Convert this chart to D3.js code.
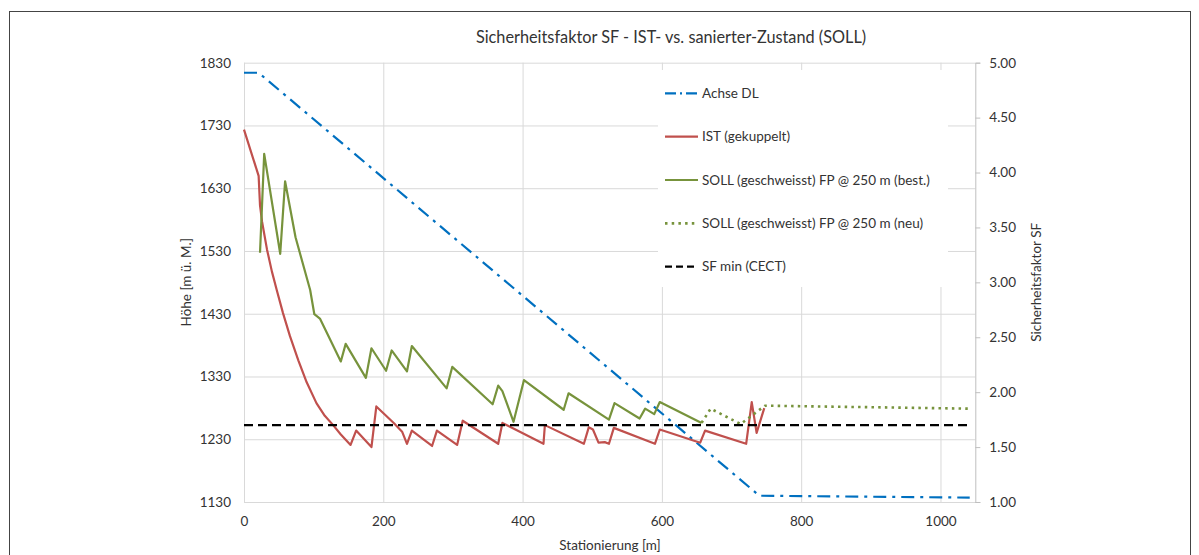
<!DOCTYPE html>
<html>
<head>
<meta charset="utf-8">
<script src="https://cdn.jsdelivr.net/npm/d3@7"></script>
<style>
  body { margin: 0; background: #fff; }
  text { font-family: Lato, "Open Sans", sans-serif; fill: #333; }
  .axis-grid line { stroke: #d9d9d9; }
  .axis-grid path { stroke: none; }
</style>
</head>
<body>
<div id="chart"></div>
<script>

      // Stationierung [m] / Hoehe [m ue. M.]
      var dlX = [0, 21, 740, 1042];
      var dlY = [1814, 1814, 1140, 1137];

      // Sicherheitsfaktor IST (gekuppelt)
      var istX = [0, 21, 23, 26, 33, 40, 47, 56, 66, 78, 90, 104, 116, 128, 139, 153,
                  161, 183, 190, 215, 227, 234, 241, 270, 277,
                  306, 314, 365, 371, 430, 432, 488, 495, 501, 509, 518, 524, 531, 590, 597, 655, 662, 721, 729, 736, 747];
      var istY = [4.39, 3.97, 3.70, 3.55, 3.30, 3.10, 2.93, 2.72, 2.51, 2.29, 2.09, 1.90, 1.785, 1.70, 1.615, 1.52,
                  1.65, 1.50, 1.87, 1.72, 1.64, 1.53, 1.65, 1.51, 1.65,
                  1.52, 1.74, 1.53, 1.72, 1.53, 1.70, 1.53, 1.68, 1.66, 1.54, 1.545, 1.53, 1.675, 1.53, 1.66, 1.54, 1.65, 1.53, 1.91, 1.63, 1.855];

      // SOLL (geschweisst) FP @ 250 m (best.)
      var bestX = [23, 29, 52, 59, 74, 95, 101, 109, 139, 146, 175, 183, 204, 212, 234, 241, 291, 299, 357, 365, 371, 387,
                   402, 459, 466, 524, 532, 568, 576, 589, 597, 657];
      var bestY = [3.27, 4.17, 3.26, 3.92, 3.41, 2.93, 2.71, 2.67, 2.28, 2.44, 2.13, 2.40, 2.195, 2.38, 2.19, 2.42, 2.035, 2.23, 1.89, 2.06, 2.01, 1.73,
                   2.11, 1.84, 1.99, 1.75, 1.90, 1.76, 1.85, 1.80, 1.91, 1.72];

      // SOLL (geschweisst) FP @ 250 m (neu)
      var neuX = [657, 670, 713, 748, 1042];
      var neuY = [1.72, 1.85, 1.71, 1.877, 1.85];

      // SF min (CECT)
      var sfMinX = [0, 1042];
      var sfMinY = [1.70, 1.70];

      var xTicks = [0, 200, 400, 600, 800, 1000];
      var leftTicks = [1130, 1230, 1330, 1430, 1530, 1630, 1730, 1830];
      var rightTicks = [1.00, 1.50, 2.00, 2.50, 3.00, 3.50, 4.00, 4.50, 5.00];

      var legendNames = ["Achse DL", "IST (gekuppelt)", "SOLL (geschweisst) FP @ 250 m (best.)",
                         "SOLL (geschweisst) FP @ 250 m (neu)", "SF min (CECT)"];

      var margin = {top: 62.7, right: 223.7, bottom: 53, left: 244};

      var width = 1199 - margin.left - margin.right,
          height = 555 - margin.top - margin.bottom;

      var svg = d3.select("#chart").append("svg")
                .attr("width", 1199)
                .attr("height", 555);

      // outer frame
      svg.append("rect")
          .attr("x", 9.5).attr("y", 11.5)
          .attr("width", 1181).attr("height", 560)
          .attr("fill", "none")
          .attr("stroke", "#444");

      var canvas = svg.append("g")
                .attr("transform", "translate(" + margin.left + "," + margin.top + ")");

      ////// Define Scales /////////////////
      var xScale = d3.scaleLinear()
          .domain([0, 1050])
          .range([0, width]);
      var yLeft = d3.scaleLinear()
          .domain([1130, 1830])
          .range([height, 0]);
      var yRight = d3.scaleLinear()
          .domain([1, 5])
          .range([height, 0]);

      /////// Grids //////////////////////////////
      var xAxisGrid = d3.axisBottom().scale(xScale).tickSize(-height).tickFormat('').tickValues(xTicks);
      var yAxisGrid = d3.axisLeft().scale(yLeft).tickSize(-width).tickFormat('').tickValues(leftTicks);

      canvas.append('g')
        .attr('class', 'x axis-grid')
        .attr('transform', 'translate(0,' + height + ')')
        .call(xAxisGrid);
      canvas.append('g')
        .attr('class', 'y axis-grid')
        .call(yAxisGrid);

      /////// Axes //////////////////////////////
      var xAxis = canvas.append("g")
          .attr("transform", "translate(0," + height + ")")
          .call(d3.axisBottom(xScale).tickValues(xTicks).tickSize(0).tickPadding(14).tickFormat(d3.format("d")));

      var leftAxis = canvas.append("g")
          .call(d3.axisLeft(yLeft).tickValues(leftTicks).tickSize(0).tickPadding(13).tickFormat(d3.format("d")));

      var rightAxis = canvas.append("g")
          .attr("transform", "translate(" + width + ",0)")
          .call(d3.axisRight(yRight).tickValues(rightTicks).tickSize(5).tickPadding(9).tickFormat(d3.format(".2f")));

      [xAxis, leftAxis, rightAxis].forEach(function(a) {
          a.select(".domain").attr("stroke", "#bfbfbf");
          a.selectAll(".tick line").attr("stroke", "#bfbfbf");
          a.selectAll("text")
              .style("font-family", "Lato, 'Open Sans', sans-serif")
              .style("font-size", "13.5px")
              .attr("fill", "#333");
      });
      leftAxis.select(".domain").attr("stroke", "#d9d9d9");
      xAxis.select(".domain").attr("stroke", "#d9d9d9");

      /////// Titles //////////////////////////////
      svg.append("text")
          .attr("x", 671).attr("y", 43)
          .attr("text-anchor", "middle")
          .style("font-size", "16.3px")
          .text("Sicherheitsfaktor SF - IST- vs. sanierter-Zustand (SOLL)");

      svg.append("text")
          .attr("transform", "translate(191," + (margin.top + height / 2) + ") rotate(-90)")
          .attr("text-anchor", "middle")
          .style("font-size", "13.5px")
          .text("Höhe [m ü. M.]");

      svg.append("text")
          .attr("transform", "translate(1041," + (margin.top + height / 2) + ") rotate(-90)")
          .attr("text-anchor", "middle")
          .style("font-size", "13.5px")
          .text("Sicherheitsfaktor SF");

      svg.append("text")
          .attr("x", 610).attr("y", 550)
          .attr("text-anchor", "middle")
          .style("font-size", "13.5px")
          .text("Stationierung [m]");

      /////// Legend background //////////////////////////////
      canvas.append("rect")
          .attr("x", 658 - margin.left).attr("y", 70 - margin.top)
          .attr("width", 290).attr("height", 217)
          .attr("fill", "#fff");

      /////// Lines //////////////////////////////
      function pts(xs, ys) {
          return xs.map(function(x, i) { return [x, ys[i]]; });
      }

      var lineLeft = d3.line()
          .x(function(d) { return xScale(d[0]); })
          .y(function(d) { return yLeft(d[1]); });
      var lineRight = d3.line()
          .x(function(d) { return xScale(d[0]); })
          .y(function(d) { return yRight(d[1]); });

      var series = [
        {data: pts(dlX, dlY), line: lineLeft, color: "#0070c0", dash: "13,6,3,6", width: 2.2},
        {data: pts(istX, istY), line: lineRight, color: "#c0504d", dash: null, width: 2.2},
        {data: pts(bestX, bestY), line: lineRight, color: "#77933c", dash: null, width: 2.2},
        {data: pts(neuX, neuY), line: lineRight, color: "#77933c", dash: "2.5,4.2", width: 2.6},
        {data: pts(sfMinX, sfMinY), line: lineRight, color: "#000", dash: "9,5", width: 2.2}
      ];

      canvas.append("g")
          .selectAll(".series")
          .data(series)
          .enter()
          .append("path")
          .attr("class", "series")
          .attr("fill", "none")
          .attr("stroke", function(d) { return d.color; })
          .attr("stroke-width", function(d) { return d.width; })
          .attr("stroke-dasharray", function(d) { return d.dash; })
          .attr("stroke-linejoin", "round")
          .attr("d", function(d) { return d.line(d.data); });

      /////// Legend //////////////////////////////
      var legend = svg.append("g")
          .selectAll(".legitem")
          .data(series)
          .enter()
          .append("g")
          .attr("class", "legitem")
          .attr("transform", function(d, i) { return "translate(665," + (93.3 + i * 43.35) + ")"; });

      legend.append("line")
          .attr("x1", 0).attr("x2", 33)
          .attr("stroke", function(d) { return d.color; })
          .attr("stroke-width", function(d) { return d.width; })
          .attr("stroke-dasharray", function(d, i) { return i == 0 ? "11,4,2,4" : (i == 4 ? "7,4" : d.dash); });

      legend.append("text")
          .attr("x", 37).attr("dy", "0.35em")
          .style("font-size", "13.5px")
          .text(function(d, i) { return legendNames[i]; });

</script>
</body>
</html>
